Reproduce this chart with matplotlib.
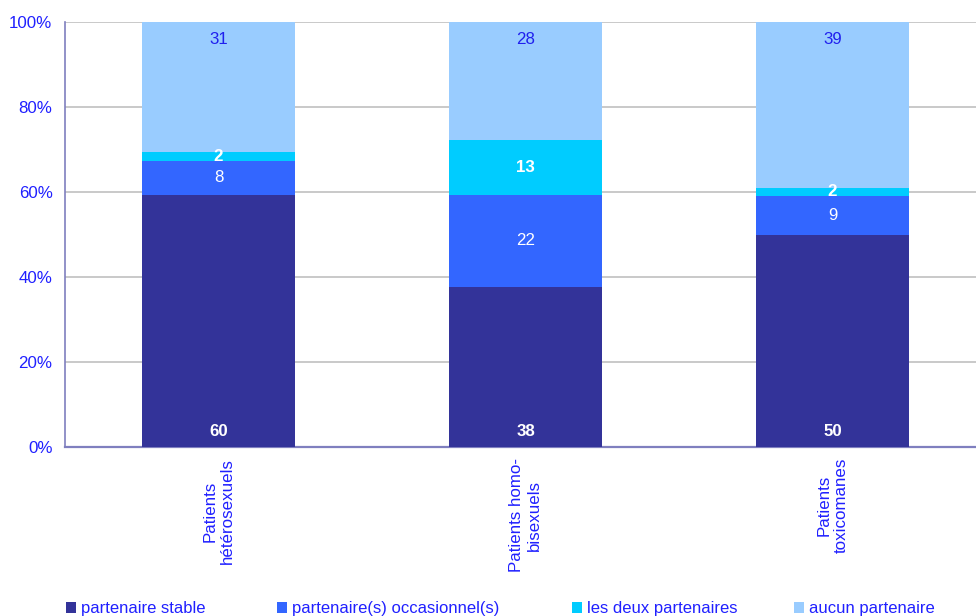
import numpy as np
import matplotlib
matplotlib.use('Agg')
import matplotlib.pyplot as plt

plt.rcParams['font.family'] = ['Liberation Sans', 'DejaVu Sans']

# ── données ──
groupes = ['Patients\nhétérosexuels', 'Patients homo-\nbisexuels', 'Patients\ntoxicomanes']
series = ['partenaire stable', 'partenaire(s) occasionnel(s)',
          'les deux partenaires', 'aucun partenaire']
stable = [60, 38, 50]
occasionnel = [8, 22, 9]
deux = [2, 13, 2]
aucun = [31, 28, 39]

couleurs = ['#333399', '#3366ff', '#00ccff', '#99ccff']
BLEU = '#2020ee'
FS = 12.2

vals = np.array([stable, occasionnel, deux, aucun], dtype=float)
pct = vals / vals.sum(axis=0) * 100

fig = plt.figure(figsize=(9.76, 6.16), dpi=100)
ax = fig.add_axes([65/976, 169/616, 921/976, 425/616])

x = np.arange(len(groupes))
bas = np.zeros(len(groupes))
barres = []
for k in range(len(series)):
    b = ax.bar(x, pct[k], 0.5, bottom=bas, color=couleurs[k], label=series[k], zorder=3)
    barres.append(b)
    for i in range(len(groupes)):
        v = int(vals[k, i])
        if k == 0:
            # étiquette en bas de barre
            ax.text(x[i], bas[i] + 3.7, str(v), ha='center', va='center',
                    color='white', fontweight='bold', fontsize=FS, zorder=4)
        elif k == 3:
            ax.text(x[i], 100 - 4, str(v), ha='center', va='center',
                    color=BLEU, fontsize=FS, zorder=4)
        else:
            bold = (k == 2)
            ax.text(x[i], bas[i] + pct[k, i] / 2, str(v), ha='center', va='center',
                    color='white', fontweight='bold' if bold else 'normal',
                    fontsize=FS, zorder=4)
    bas += pct[k]

ax.set_xlim(-0.5, 2.5)
ax.set_ylim(0, 100)
ax.set_yticks(np.arange(0, 101, 20))
ax.set_yticklabels([f'{t}%' for t in range(0, 101, 20)], color='#2020ff', fontsize=FS)
ax.yaxis.grid(True, color='#c0c0c0', lw=1.2, zorder=0)
ax.tick_params(axis='y', length=0, pad=9)
ax.tick_params(axis='x', length=0, pad=8)
ax.set_xticks(x)
ax.set_xticklabels(groupes, rotation=90, va='top', ha='center',
                   multialignment='center', color='#2020ff', fontsize=FS)

for s in ['top', 'right']:
    ax.spines[s].set_visible(False)
ax.spines['left'].set_color('#7f7fbf')
ax.spines['bottom'].set_color('#7f7fbf')
ax.spines['left'].set_linewidth(1.2)
ax.spines['bottom'].set_linewidth(1.6)

# légende : une entrée par série, espacées comme dans le rapport
pos_leg = [66, 277, 572, 794]
for b, lab, px in zip(barres, series, pos_leg):
    leg = fig.legend([b], [lab], loc='center left', bbox_to_anchor=(px/976, 7/616),
                     frameon=False, fontsize=12, handlelength=0.62, handleheight=0.62,
                     handletextpad=0.3, borderaxespad=0, borderpad=0)
    for t in leg.get_texts():
        t.set_color('#2020ff')

fig.savefig('out.png', dpi=100)
